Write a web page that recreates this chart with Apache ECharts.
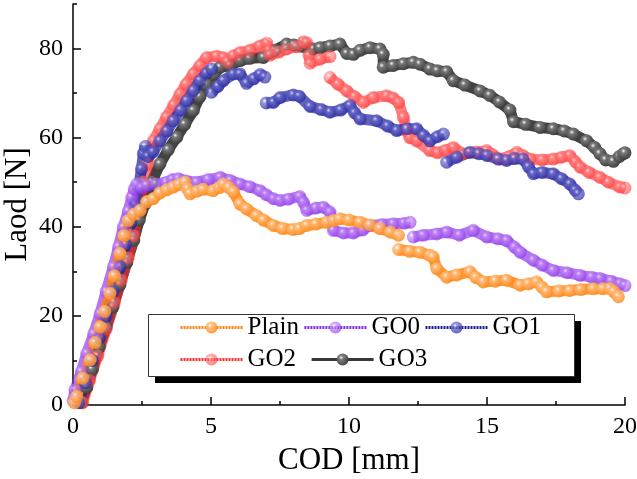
<!DOCTYPE html>
<html>
<head>
<meta charset="utf-8">
<script src="https://cdn.jsdelivr.net/npm/echarts@6/dist/echarts.min.js"></script>
<style>
  html, body { margin: 0; padding: 0; background: #fff; }
  #chart { width: 637px; height: 479px; }
</style>
</head>
<body>
<div id="chart"></div>
<script>
// COD [mm] vs load [N] ('-' = gap in the curve)
const plain = [
  [0.05, 0.5], [0.13, 1.9], [0.35, 6], [0.62, 10.1], [0.8, 14], [0.98, 17.5], [1.15, 21], [1.34, 25],
  [1.5, 29], [1.7, 34], [1.85, 38], [2.0, 41.4], [2.2, 42.8], [2.43, 43.7], [2.67, 45.6], [2.91, 46.3],
  [3.15, 47.6], [3.4, 48.3], [3.63, 48.9], [3.85, 49.5], [4.06, 50.0], [4.15, 48.5], [4.24, 47.4],
  [4.5, 48.0], [4.71, 48.4], [5.08, 48.1], [5.3, 48.8], [5.45, 49.6], [5.65, 48.8], [5.81, 47.8],
  [6.05, 45.1], [6.29, 44], [6.65, 42.5], [6.9, 41.5], [7.26, 40.3], [7.6, 39.6], [7.98, 39.4],
  [8.2, 39.6], [8.47, 40.3], [8.8, 40.6], [9.19, 41.0], [9.45, 41.4], [9.67, 41.8], [10.0, 41.5],
  [10.4, 41.0], [10.76, 40.4], [11.12, 39.6], [11.5, 38.8], [11.79, 38.1], ['-', '-'],
  [11.8, 34.9], [12.2, 34.5], [12.57, 34.3], [12.93, 33.6], [13.05, 33.2], [13.18, 30.6], [13.54, 28.7],
  [13.9, 29.2], [14.38, 29.9], [14.6, 28.6], [14.87, 27.6], [15.3, 27.8], [15.71, 28.0], [16.2, 26.9],
  [16.5, 27.2], [16.8, 27.6], [17.0, 26.4], [17.16, 25.4], [17.6, 25.6], [18.0, 25.7], [18.4, 25.9],
  [18.85, 26.1], [19.2, 26.1], [19.46, 26.1], [19.6, 25.4], [19.76, 24.3]
]
const go0 = [
  [0.0, 1], [0.07, 3.4], [0.3, 7.5], [0.5, 11.6], [0.75, 16], [0.98, 20.5], [1.2, 25.5], [1.46, 31.0],
  [1.65, 35.5], [1.82, 39.9], [2.0, 43.5], [2.13, 46.6], [2.22, 48.5], [2.31, 49.6], [2.5, 48.8],
  [2.67, 49.3], [3.0, 49.6], [3.39, 50.0], [3.6, 50.6], [3.82, 50.8], [4.1, 50.3], [4.48, 50.0],
  [4.9, 50.6], [5.33, 51.1], [5.7, 50.4], [6.05, 49.6], [6.4, 49.0], [6.78, 48.1], [7.0, 47.2],
  [7.26, 46.3], [7.5, 45.9], [7.8, 46.2], [8.22, 46.8], [8.35, 45.5], [8.47, 43.7], [8.8, 44.2],
  [9.07, 44.4], [9.31, 43.3], [9.43, 39.2], [9.8, 38.6], [10.16, 38.6], [10.5, 39.3], [10.76, 40.3],
  [11.2, 40.5], [11.6, 40.7], [12.0, 40.8], [12.21, 41.0], ['-', '-'],
  [12.33, 37.7], [12.69, 38.1], [13.18, 38.4], [13.54, 38.8], [14.0, 38.1], [14.5, 39.2], [14.99, 37.7],
  [15.4, 37.3], [15.71, 36.9], [16.0, 35.4], [16.2, 34.3], [16.68, 32.5], [17.0, 31.4], [17.4, 30.2],
  [17.9, 29.7], [18.37, 29.1], [18.8, 28.7], [19.1, 28.4], [19.5, 27.8], [19.82, 27.2], [20.0, 26.8]
]
const go1 = [
  [0.2, 0.5], [0.45, 5], [0.7, 10], [0.95, 15], [1.2, 20], [1.45, 25.5], [1.7, 31], [1.9, 36],
  [2.1, 41], [2.25, 45], [2.38, 49], [2.48, 53], [2.55, 56.5], [2.62, 58], [2.72, 55.8], [2.9, 56.8],
  [3.15, 59.3], [3.4, 61.5], [3.63, 63.8], [3.9, 66.2], [4.12, 68.3], [4.36, 70.6], [4.6, 72.8],
  [4.84, 74.5], [5.02, 75.4], ['-', '-'],
  [5.02, 70.2], [5.25, 71.5], [5.45, 72.8], [5.81, 74.3], [6.05, 74.3], [6.29, 72.2], [6.55, 73.2],
  [6.78, 74.2], [6.95, 73.6], ['-', '-'],
  [7.0, 67.8], [7.26, 67.9], [7.5, 69.0], [7.98, 69.6], [8.2, 69.3], [8.59, 67.0], [9.0, 66.3],
  [9.31, 65.7], [9.7, 66.2], [10.04, 67.2], [10.2, 65.6], [10.4, 64.2], [11.0, 63.8], [11.4, 62.6],
  [11.73, 61.6], [12.1, 62.0], [12.45, 62.0], [12.7, 60.5], [12.93, 59.3], [13.2, 60.2], [13.42, 60.8], ['-', '-'],
  [13.54, 54.5], [13.9, 55.6], [14.38, 56.7], [14.7, 56.4], [14.99, 56.0], [15.4, 55.2], [15.71, 54.9],
  [16.0, 55.3], [16.3, 55.2], [16.5, 53.5], [16.68, 51.9], [17.0, 52.2], [17.4, 51.9], [17.7, 50.8],
  [18.0, 49.6], [18.2, 48.2], [18.31, 47.4]
]
const go2 = [
  [0.35, 0.5], [0.6, 5.5], [0.9, 11], [1.2, 17], [1.5, 23], [1.75, 28], [2.0, 33], [2.2, 38],
  [2.4, 44], [2.55, 50], [2.7, 54], [2.91, 59.3], [3.15, 62], [3.39, 64.6], [3.65, 67.3], [3.88, 69.8],
  [4.1, 72], [4.36, 74.3], [4.6, 76.2], [4.84, 78.0], [5.2, 78.3], [5.45, 78.0], [5.6, 77.0],
  [5.81, 78.4], [6.05, 79.1], [6.41, 79.6], [6.78, 80.6], [7.02, 81.2], [7.1, 79.5], [7.14, 78.5],
  [7.45, 79.2], [7.74, 79.9], [8.1, 80.4], [8.34, 81.5], [8.47, 81.3], [8.55, 78.5], [8.59, 76.7],
  [8.95, 77.6], [9.31, 78.2], ['-', '-'],
  [9.31, 73.5], [9.6, 72], [9.92, 70.5], [10.2, 69.2], [10.52, 67.9], [10.88, 69.0], [11.37, 69.4],
  [11.6, 68.9], [11.8, 67.9], [11.97, 64.6], [12.09, 61.6], [12.2, 60], [12.45, 59.3], [12.93, 57.1],
  [13.2, 56.6], [13.5, 57.2], [13.78, 57.8], [14.14, 56.4], [14.6, 56.8], [14.99, 57.1], [15.2, 56.2],
  [15.47, 55.2], [15.8, 55.8], [16.08, 56.7], [16.3, 56.0], [16.56, 55.2], [17.0, 55.0], [17.4, 55.2],
  [17.7, 55.6], [18.0, 56.0], [18.2, 54.6], [18.37, 53.4], [18.7, 52.2], [19.09, 51.1], [19.4, 50],
  [19.82, 48.9], [20.0, 48.7]
]
const go3 = [
  [0.3, 0.5], [0.5, 4], [0.7, 8], [0.95, 13], [1.2, 17.5], [1.45, 22], [1.7, 27], [1.95, 32],
  [2.2, 37], [2.4, 41.5], [2.6, 45], [2.85, 50], [3.15, 54.1], [3.45, 57.3], [3.76, 60.1], [4.05, 63],
  [4.36, 66.1], [4.6, 69.2], [4.84, 72.0], [5.1, 74.2], [5.33, 75.8], [5.69, 76.2], [6.05, 77.3],
  [6.4, 77.8], [6.9, 78.0], [7.3, 79.6], [7.74, 81.0], [8.0, 80.8], [8.3, 80.5], [8.71, 79.9],
  [8.95, 80.2], [9.31, 80.6], [9.67, 81.0], [9.92, 78.9], [10.16, 78.7], [10.4, 79.6], [10.76, 80.2],
  [11.12, 79.9], [11.24, 78.7], [11.24, 75.8], [11.6, 76.2], [11.97, 76.6], [12.33, 76.9], [12.57, 76.5],
  [12.93, 75.4], [13.2, 75.0], [13.54, 74.8], [13.78, 72.8], [14.2, 71.8], [14.75, 70.5], [15.1, 69.5],
  [15.45, 68.0], [15.83, 66.2], [15.96, 63.6], [16.4, 63.0], [16.92, 62.3], [17.4, 62.0], [17.8, 61.5],
  [18.13, 60.8], [18.61, 59.3], [18.9, 57.8], [19.09, 56.4], [19.3, 55.0], [19.58, 54.7], [19.8, 55.8],
  [19.94, 56.4], [20.0, 56.6]
]

const names = ['Plain', 'GO0', 'GO1', 'GO2', 'GO3']
const xTicks = [0, 5, 10, 15, 20]
const yTicks = [0, 20, 40, 60, 80]
const yMinorTicks = [10, 30, 50, 70, 90]

const font = 'Liberation Serif'

// ball-like marker: light spot top-left fading to the base colour
function bead(base, light) {
  return {
    type: 'radial', x: 0.38, y: 0.35, r: 0.7,
    colorStops: [
      { offset: 0, color: '#ffffff' },
      { offset: 0.25, color: light },
      { offset: 1, color: base },
    ],
  }
}

function makeSeries(name, data, base, light, opacity) {
  return {
    name,
    type: 'line',
    data,
    symbol: 'circle',
    symbolSize: 13,
    showAllSymbol: true,
    connectNulls: false,
    lineStyle: { color: base, width: 11, opacity },
    itemStyle: { color: bead(base, light), opacity },
    emphasis: { disabled: true },
  }
}

// drawn from GO3 up to Plain, so Plain sits on top like in the picture
const series = [
  makeSeries('GO3', go3, '#383838', '#7a7a7a', 0.95),
  makeSeries('GO2', go2, '#ff2a2a', '#ff8080', 0.6),
  makeSeries('GO1', go1, '#1e1e9a', '#6a6ad0', 0.7),
  makeSeries('GO0', go0, '#8a2be8', '#c08af5', 0.65),
  makeSeries('Plain', plain, '#ff8412', '#ffbf80', 0.85),
]

const legendText = { fontFamily: font, fontSize: 25, color: '#000' }
const legendLine = (type) => ({ width: 3, type, opacity: 1 })

const chart = echarts.init(document.getElementById('chart'), null, { renderer: 'canvas' })
chart.setOption({
  animation: false,
  backgroundColor: '#fff',
  grid: { left: 73, right: 12, top: 4, bottom: 74, outerBoundsMode: 'none' },
  xAxis: {
    type: 'value', min: 0, max: 20, interval: 5,
    name: 'COD [mm]', nameLocation: 'middle', nameGap: 40, nameMoveOverlap: false,
    nameTextStyle: { fontFamily: font, fontSize: 31, color: '#000' },
    axisLine: { lineStyle: { color: '#000', width: 1.5 } },
    axisTick: { inside: true, length: 8, lineStyle: { color: '#000', width: 1.5 }, customValues: xTicks },
    minorTick: { show: true, splitNumber: 2, length: 4, lineStyle: { color: '#000', width: 1.5 } },
    axisLabel: { fontFamily: font, fontSize: 24, color: '#000', margin: 10, customValues: xTicks },
    splitLine: { show: false },
  },
  yAxis: [
    {
      type: 'value', min: 0, max: 90, interval: 10,
      name: 'Laod [N]', nameLocation: 'middle', nameGap: 40, nameRotate: 90, nameMoveOverlap: false,
      nameTextStyle: { fontFamily: font, fontSize: 31, color: '#000' },
      axisLine: { show: true, lineStyle: { color: '#000', width: 1.5 } },
      axisTick: { inside: true, length: 8, lineStyle: { color: '#000', width: 1.5 }, customValues: yTicks },
      axisLabel: { fontFamily: font, fontSize: 24, color: '#000', margin: 10, customValues: yTicks },
      splitLine: { show: false },
    },
    {
      // minor ticks only
      type: 'value', min: 0, max: 90, interval: 10, position: 'left',
      axisLine: { show: false },
      axisTick: { inside: true, length: 4, lineStyle: { color: '#000', width: 1.5 }, customValues: yMinorTicks },
      axisLabel: { show: false },
      splitLine: { show: false },
    },
  ],
  graphic: [
    { type: 'rect', z: 3, shape: { x: 155, y: 321, width: 426, height: 62 }, style: { fill: '#000' }, silent: true },
    { type: 'rect', z: 4, shape: { x: 148.5, y: 314.5, width: 426, height: 62 }, style: { fill: '#fff', stroke: '#333', lineWidth: 1 }, silent: true },
  ],
  legend: [
    {
      z: 5, left: 179, top: 315, padding: 0, itemGap: 4, itemWidth: 62, itemHeight: 15,
      selectedMode: false, textStyle: legendText, lineStyle: legendLine([2, 1]),
      data: names.slice(0, 3),
    },
    {
      z: 5, left: 179, top: 347, padding: 0, itemGap: 14, itemWidth: 62, itemHeight: 15,
      selectedMode: false, textStyle: legendText,
      data: [
        { name: names[3], lineStyle: legendLine([2, 1]) },
        { name: names[4], lineStyle: legendLine('solid') },
      ],
    },
  ],
  series,
})
</script>
</body>
</html>
